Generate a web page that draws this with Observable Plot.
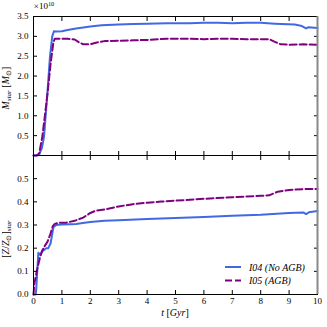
<!DOCTYPE html>
<html>
<head>
<meta charset="utf-8">
<script src="https://cdn.jsdelivr.net/npm/d3@7"></script>
<script src="https://cdn.jsdelivr.net/npm/@observablehq/plot@0.6"></script>
<style>
  html, body { margin: 0; padding: 0; background: white; }
  #chart { position: relative; width: 327px; height: 327px; }
  #chart svg { display: block; overflow: visible; background: transparent; }
</style>
</head>
<body>
<div id="chart"></div>
<script>
// ---- data ----
const tMassNoAGB = [0, 0.15, 0.2, 0.3, 0.37, 0.48, 0.58, 0.66, 0.72, 0.8, 1.0, 1.2, 1.5, 2.0, 2.4, 3.0, 3.5, 4.0, 4.7, 5.5, 6.0, 6.5, 7.0, 7.5, 8.0, 8.5, 9.2, 9.45, 9.6, 9.68, 10];
const massNoAGB = [0, 0, 0.02, 0.2, 0.47, 1.48, 2.49, 3.0, 3.13, 3.12, 3.13, 3.16, 3.2, 3.25, 3.28, 3.3, 3.31, 3.32, 3.33, 3.33, 3.34, 3.34, 3.33, 3.34, 3.34, 3.32, 3.3, 3.26, 3.2, 3.23, 3.21];
const tMassAGB = [0, 0.1, 0.2, 0.31, 0.4, 0.5, 0.6, 0.7, 0.75, 0.9, 1.2, 1.45, 1.6, 1.75, 2.0, 2.2, 2.5, 3.0, 3.5, 4.0, 4.7, 5.5, 6.0, 6.5, 7.0, 7.5, 8.0, 8.3, 8.5, 8.7, 9.0, 9.5, 10];
const massAGB = [0, 0, 0.05, 0.47, 1.0, 1.6, 2.3, 2.85, 2.94, 2.94, 2.94, 2.92, 2.85, 2.8, 2.8, 2.84, 2.88, 2.89, 2.9, 2.91, 2.94, 2.94, 2.93, 2.94, 2.94, 2.93, 2.93, 2.93, 2.86, 2.8, 2.79, 2.8, 2.79];

const tZNoAGB = [0, 0.08, 0.1, 0.17, 0.25, 0.3, 0.35, 0.45, 0.52, 0.6, 0.7, 0.8, 1.0, 1.3, 1.5, 1.8, 2.0, 2.5, 3.0, 4.0, 5.0, 6.0, 7.0, 8.0, 9.0, 9.5, 9.6, 9.7, 10];
const zNoAGB = [0, 0, 0.03, 0.18, 0.17, 0.19, 0.19, 0.2, 0.2, 0.22, 0.29, 0.3, 0.302, 0.303, 0.304, 0.31, 0.313, 0.318, 0.32, 0.326, 0.33, 0.335, 0.34, 0.344, 0.352, 0.354, 0.347, 0.355, 0.36];
const tZAGB = [0, 0.03, 0.13, 0.25, 0.37, 0.49, 0.6, 0.68, 0.75, 0.9, 1.15, 1.45, 1.75, 2.0, 2.2, 2.5, 3.0, 3.5, 4.0, 4.5, 5.0, 6.0, 7.0, 8.0, 8.3, 8.6, 9.0, 9.5, 10];
const zAGB = [0, 0.047, 0.11, 0.17, 0.205, 0.227, 0.263, 0.295, 0.305, 0.31, 0.31, 0.318, 0.332, 0.352, 0.362, 0.367, 0.38, 0.39, 0.396, 0.401, 0.405, 0.413, 0.42, 0.426, 0.428, 0.444, 0.451, 0.455, 0.455];

const xTicks = [0, 1, 2, 3, 4, 5, 6, 7, 8, 9, 10];
const massTicks = [0.5, 1.0, 1.5, 2.0, 2.5, 3.0, 3.5];
const zTicks = [0.0, 0.1, 0.2, 0.3, 0.4, 0.5];
const seriesNames = ["I04 (No AGB)", "I05 (AGB)"];
const colors = ["#4169E1", "#800080"];

const mass1 = tMassNoAGB.map((t, i) => ({t, v: massNoAGB[i]}));
const mass2 = tMassAGB.map((t, i) => ({t, v: massAGB[i]}));
const z1 = tZNoAGB.map((t, i) => ({t, v: zNoAGB[i]}));
const z2 = tZAGB.map((t, i) => ({t, v: zAGB[i]}));

const font = "Liberation Serif";
const style = {fontFamily: font, fontSize: "9px", background: "transparent", color: "black", overflow: "visible"};

function axes(yTicks, yFmt, showX) {
  return [
    Plot.axisX({anchor: "bottom", ticks: xTicks, tickSize: -4, tickPadding: 7, label: null,
      tickFormat: showX ? d3.format("d") : () => ""}),
    Plot.axisX({anchor: "top", ticks: xTicks, tickSize: -4, tickPadding: 7, label: null, tickFormat: () => ""}),
    Plot.axisY({anchor: "left", ticks: yTicks, tickSize: -4, tickPadding: 9, label: null, tickFormat: yFmt}),
    Plot.axisY({anchor: "right", ticks: yTicks, tickSize: -4, tickPadding: 7, label: null, tickFormat: () => ""}),
    Plot.frame({stroke: "black", strokeWidth: 1}),
    Plot.ruleX([10], {stroke: "#888", strokeWidth: 2})
  ];
}

const lineOpts = [
  {stroke: colors[0], strokeWidth: 2},
  {stroke: colors[1], strokeWidth: 2, strokeDasharray: "7,3"}
];

const topPlot = Plot.plot({
  width: 327, height: 155,
  marginLeft: 33, marginRight: 10, marginTop: 16, marginBottom: 0,
  style,
  x: {domain: [0, 10]},
  y: {domain: [0, 3.5]},
  marks: [
    Plot.line(mass1, {x: "t", y: "v", ...lineOpts[0]}),
    Plot.line(mass2, {x: "t", y: "v", ...lineOpts[1]}),
    ...axes(massTicks, d3.format(".1f"), false)
  ]
});

const bottomPlot = Plot.plot({
  width: 327, height: 172,
  marginLeft: 33, marginRight: 10, marginTop: 0, marginBottom: 33,
  style,
  x: {domain: [0, 10]},
  y: {domain: [0, 0.6]},
  marks: [
    Plot.line(z1, {x: "t", y: "v", ...lineOpts[0]}),
    Plot.line(z2, {x: "t", y: "v", ...lineOpts[1]}),
    ...axes(zTicks, d3.format(".1f"), true)
  ]
});

const chart = document.getElementById("chart");
chart.appendChild(topPlot);
chart.appendChild(bottomPlot);

// ---- labels ----
function addText(svg, x, y, parts, rotate, size) {
  const t = d3.select(svg).append("text")
    .attr("transform", `translate(${x},${y})` + (rotate ? ` rotate(${rotate})` : ""))
    .attr("text-anchor", "middle")
    .attr("font-family", font)
    .attr("font-size", size || 10)
    .attr("fill", "black");
  parts.forEach(p => {
    const s = t.append("tspan").text(p.s);
    if (p.i) s.attr("font-style", "italic");
    if (p.sub) s.attr("font-size", (size || 10) * 0.7).attr("baseline-shift", "-25%");
    if (p.sup) s.attr("font-size", (size || 10) * 0.7).attr("baseline-shift", "45%");
  });
  return t;
}

addText(topPlot, 9, 88, [
  {s: "M", i: true}, {s: "star", i: true, sub: true}, {s: " ["}, {s: "M", i: true}, {s: "⊙", sub: true}, {s: "]"}
], -90, 10);
addText(topPlot, 44, 9, [{s: "×10"}, {s: "10", sup: true}], 0, 9);

addText(bottomPlot, 9, 84, [
  {s: "["}, {s: "Z", i: true}, {s: "/"}, {s: "Z", i: true}, {s: "⊙", sub: true}, {s: "]"}, {s: "star", i: true, sub: true}
], -90, 10);
addText(bottomPlot, 175, 161, [{s: "t", i: true}, {s: " ["}, {s: "Gyr", i: true}, {s: "]"}], 0, 10);

// ---- legend ----
const lg = d3.select(bottomPlot).append("g")
  .attr("font-family", font).attr("font-size", 10).attr("text-anchor", "start");
seriesNames.forEach((name, i) => {
  const y = 112 + i * 13.5;
  lg.append("line").attr("x1", 225).attr("x2", 241).attr("y1", y).attr("y2", y)
    .attr("stroke", colors[i]).attr("stroke-width", 2)
    .attr("stroke-dasharray", i === 1 ? "7,3" : null);
  lg.append("text").attr("x", 249).attr("y", y).attr("dy", "0.35em")
    .attr("text-anchor", "start")
    .attr("font-style", "italic").text(name);
});
</script>
</body>
</html>
